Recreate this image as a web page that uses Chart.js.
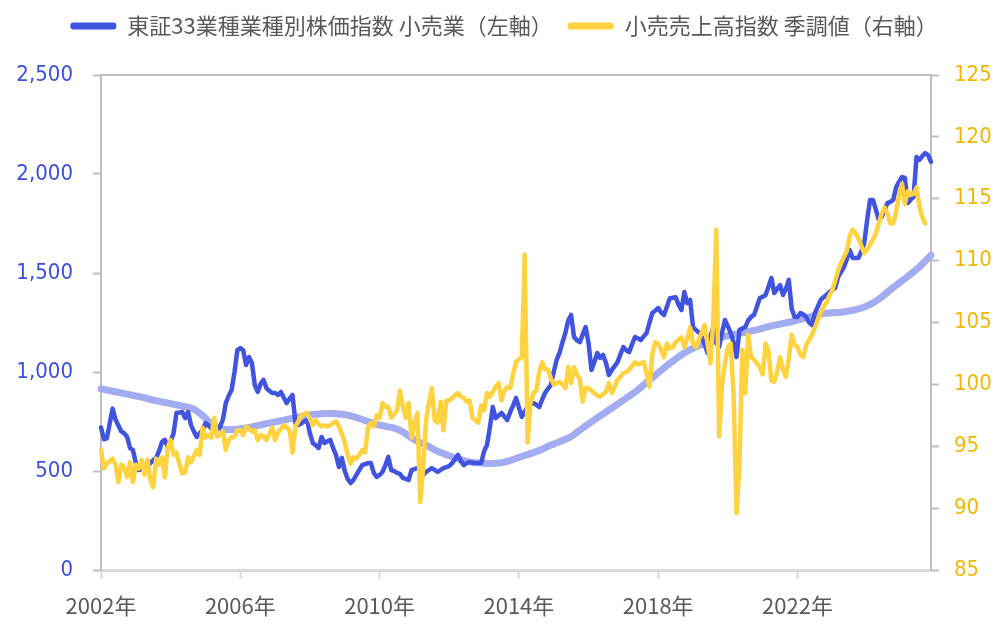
<!DOCTYPE html>
<html lang="ja">
<head>
<meta charset="utf-8">
<title>小売業 株価指数と小売売上高</title>
<script src="https://cdn.jsdelivr.net/npm/chart.js@4/dist/chart.umd.min.js"></script>
<style>
  html, body { margin: 0; padding: 0; background: #fff; }
  #wrap { width: 1008px; height: 625px; }
</style>
</head>
<body>
<div id="wrap"><canvas id="retailChart" width="1008" height="625"></canvas></div>
<script>
// monthly data, Jan 2002 onwards
const startYear = 2002;
const monthCount = 287; // 2002/01 - 2025/11

// 東証33業種 小売業 (left axis)
const retailStockIndex = [
  720, 660, 665, 740, 815, 760, 730, 700, 690, 672, 616, 606,          // 2002
  540, 505, 510, 515, 525, 540, 555, 566, 600, 646, 657, 621,          // 2003
  650, 690, 793, 795, 798, 767, 798, 732, 700, 672, 690, 707,          // 2004
  742, 730, 715, 707, 712, 722, 760, 843, 880, 909, 1000, 1111,        // 2005
  1121, 1110, 1035, 1076, 1045, 934, 899, 940, 960, 919, 905, 894,     // 2006
  894, 884, 899, 870, 843, 865, 884, 742, 732, 740, 750, 757,          // 2007
  690, 641, 630, 616, 672, 641, 650, 657, 616, 580, 520, 566,          // 2008
  500, 460, 439, 455, 480, 505, 530, 535, 540, 540, 490, 470,          // 2009
  480, 495, 530, 571, 505, 500, 490, 485, 465, 460, 455, 505,          // 2010
  510, 515, 500, 480, 495, 505, 515, 505, 495, 505, 515, 520,          // 2011
  525, 540, 560, 581, 550, 530, 540, 545, 542, 540, 540, 540,          // 2012
  600, 631, 720, 823, 767, 780, 793, 775, 757, 798, 830, 869,          // 2013
  820, 773, 800, 823, 835, 843, 835, 823, 860, 894, 915, 934,          // 2014
  1000, 1061, 1096, 1150, 1197, 1260, 1288, 1177, 1160, 1151, 1190, 1227, // 2015
  1146, 1010, 1050, 1096, 1071, 1086, 1045, 985, 1010, 1030, 1050, 1090,  // 2016
  1126, 1110, 1101, 1140, 1177, 1170, 1161, 1180, 1197, 1250, 1298, 1310, // 2017
  1323, 1300, 1288, 1330, 1373, 1375, 1378, 1340, 1313, 1404, 1348, 1364, // 2018
  1227, 1212, 1200, 1177, 1140, 1096, 1180, 1227, 1146, 1126, 1200, 1263, // 2019
  1230, 1197, 1150, 1076, 1212, 1220, 1227, 1260, 1278, 1288, 1330, 1373, // 2020
  1380, 1389, 1430, 1475, 1399, 1420, 1439, 1389, 1420, 1465, 1320, 1278, // 2021
  1278, 1298, 1290, 1278, 1250, 1237, 1298, 1330, 1364, 1378, 1390, 1404, // 2022
  1415, 1424, 1480, 1505, 1530, 1570, 1616, 1576, 1576, 1576, 1610, 1651, // 2023
  1768, 1869, 1869, 1820, 1768, 1783, 1820, 1853, 1860, 1869, 1934, 1960, // 2024
  1985, 1980, 1853, 1870, 1884, 2086, 2071, 2090, 2106, 2096, 2061        // 2025
];

// 小売売上高指数 季調値 (right axis)
const retailSalesIndex = [
  94.7, 93.2, 93.6, 93.8, 94.0, 93.5, 92.1, 93.5, 93.3, 92.5, 93.7, 92.1,        // 2002
  93.5, 93.2, 93.9, 92.7, 93.9, 92.3, 91.7, 94.0, 93.5, 94.1, 92.5, 94.9,        // 2003
  95.5, 94.3, 94.5, 93.6, 92.8, 92.9, 94.1, 93.7, 94.2, 94.7, 94.3, 96.5,        // 2004
  95.7, 95.9, 95.7, 97.3, 95.8, 95.9, 96.2, 94.7, 95.5, 95.7, 95.8, 96.3,        // 2005
  96.3, 95.9, 96.6, 96.4, 96.2, 96.3, 95.5, 95.9, 95.8, 95.5, 96.0, 96.5,        // 2006
  95.5, 96.1, 96.4, 96.7, 96.5, 96.3, 94.5, 96.6, 97.0, 97.5, 97.6, 97.7,        // 2007
  97.2, 96.7, 97.1, 96.8, 96.6, 96.7, 96.6, 96.7, 96.9, 97.0, 96.6, 96.0,        // 2008
  95.3, 94.3, 93.6, 94.1, 94.0, 94.3, 94.7, 94.5, 96.5, 96.9, 96.6, 97.5,        // 2009
  97.3, 98.5, 98.2, 98.2, 97.3, 97.6, 97.9, 99.5, 98.2, 97.3, 98.5, 95.7,        // 2010
  96.9, 97.7, 90.5, 93.3, 97.1, 98.5, 99.7, 97.1, 96.9, 98.6, 96.3, 98.7,        // 2011
  98.7, 98.9, 99.1, 99.3, 99.0, 98.9, 98.6, 98.7, 97.3, 97.1, 96.9, 98.3,        // 2012
  97.9, 99.3, 99.0, 99.4, 99.8, 100.1, 98.7, 99.5, 99.8, 99.7, 100.8, 101.8,     // 2013
  102.0, 102.2, 110.5, 95.3, 98.5, 99.3, 99.5, 101.0, 101.8, 101.2, 101.2, 100.5, // 2014
  100.0, 100.1, 100.2, 100.0, 99.7, 101.4, 100.1, 101.4, 100.8, 100.4, 98.6, 99.7, // 2015
  99.7, 99.5, 99.3, 99.1, 99.0, 99.2, 99.4, 100.1, 99.3, 99.8, 100.4, 100.6,     // 2016
  100.9, 101.0, 101.2, 101.5, 101.8, 101.6, 101.7, 101.8, 100.9, 99.8, 102.5, 103.4, // 2017
  103.3, 102.8, 102.2, 103.3, 102.9, 103.0, 103.4, 103.6, 103.8, 103.0, 103.7, 104.6, // 2018
  103.3, 103.0, 103.6, 104.2, 104.8, 103.3, 101.7, 105.2, 112.5, 95.8, 100.0, 101.7,  // 2019
  103.0, 103.3, 99.0, 89.6, 93.5, 102.8, 99.3, 104.0, 102.2, 102.0, 101.7, 101.4,    // 2020
  100.8, 103.3, 102.7, 100.3, 100.2, 101.0, 102.2, 101.2, 100.6, 102.1, 104.0, 103.2, // 2021
  103.0, 102.4, 102.2, 103.2, 103.6, 104.0, 104.6, 105.2, 105.8, 106.3, 106.6, 107.2, // 2022
  107.6, 108.4, 109.2, 109.8, 110.3, 110.8, 112.0, 112.5, 112.2, 111.8, 111.2, 110.6, // 2023
  110.9, 111.3, 111.7, 112.2, 113.0, 113.8, 114.3, 113.8, 113.0, 113.0, 114.0, 115.3, // 2024
  116.2, 114.6, 115.6, 115.3, 115.4, 115.9, 114.4, 113.5, 113.0                       // 2025
];

// long-run trend of the stock index (light line, left axis, not in legend)
const stockTrend = [
  915, 912, 909, 906, 903, 900, 897, 894, 891, 888, 885, 882,          // 2002
  879, 876, 873, 870, 866, 862, 858, 855, 852, 849, 846, 843,          // 2003
  840, 837, 834, 831, 828, 825, 822, 818, 812, 803, 792, 780,          // 2004
  766, 752, 740, 730, 722, 716, 712, 710, 709, 709, 710, 711,          // 2005
  713, 715, 717, 720, 723, 727, 730, 733, 736, 739, 742, 745,          // 2006
  748, 751, 754, 757, 760, 763, 766, 769, 772, 775, 778, 781,          // 2007
  783, 785, 787, 788, 789, 790, 790, 790, 790, 789, 788, 787,          // 2008
  785, 782, 778, 774, 770, 765, 760, 755, 750, 745, 740, 736,          // 2009
  732, 729, 726, 723, 720, 717, 712, 705, 697, 688, 678, 668,          // 2010
  658, 650, 643, 636, 630, 623, 615, 607, 600, 594, 588, 582,          // 2011
  577, 572, 567, 562, 557, 553, 549, 546, 544, 542, 541, 540,          // 2012
  539, 538, 538, 538, 539, 540, 542, 545, 549, 553, 558, 563,          // 2013
  568, 573, 578, 583, 588, 593, 598, 604, 610, 617, 624, 631,          // 2014
  636, 642, 648, 654, 660, 666, 674, 684, 695, 706, 717, 728,          // 2015
  738, 748, 758, 768, 778, 788, 798, 808, 818, 828, 838, 848,          // 2016
  858, 868, 878, 888, 898, 910, 922, 935, 948, 960, 972, 984,          // 2017
  996, 1008, 1020, 1032, 1044, 1055, 1066, 1076, 1086, 1096, 1105, 1113, // 2018
  1120, 1126, 1132, 1138, 1144, 1150, 1156, 1162, 1167, 1172, 1176, 1180, // 2019
  1183, 1186, 1189, 1192, 1195, 1198, 1201, 1204, 1207, 1210, 1213, 1217, // 2020
  1221, 1225, 1229, 1233, 1236, 1239, 1242, 1245, 1248, 1251, 1254, 1258, // 2021
  1262, 1266, 1270, 1274, 1278, 1282, 1286, 1289, 1292, 1295, 1297, 1298, // 2022
  1299, 1300, 1301, 1302, 1304, 1306, 1309, 1312, 1315, 1319, 1323, 1328, // 2023
  1334, 1341, 1349, 1358, 1368, 1379, 1391, 1403, 1415, 1427, 1438, 1449, // 2024
  1460, 1471, 1482, 1494, 1506, 1518, 1531, 1545, 1560, 1575, 1590        // 2025
];

// year labels are shown every 4 years
const labelYears = [2002, 2006, 2010, 2014, 2018, 2022];

// month categories "2002/01" ...
const months = [];
for (let i = 0; i < monthCount; i++) {
    const y = startYear + Math.floor(i / 12);
    const m = (i % 12) + 1;
    months.push(y + '/' + String(m).padStart(2, '0'));
}

const isYearTick = (idx) => idx % 12 === 0 && labelYears.includes(startYear + idx / 12);

const gridGray = '#bfbfbf';
const textGray = '#595959';
const numFont = "'DejaVu Sans Condensed', 'DejaVu Sans', sans-serif";
const jpFont = "'Noto Sans CJK JP', 'Noto Sans', sans-serif";

Chart.defaults.font.family = jpFont;
Chart.defaults.color = textGray;

// make the legend box as tall as the space above the plot
const legendSpacer = {
    id: 'legendSpacer',
    beforeInit(chart) {
        const origFit = chart.legend.fit;
        chart.legend.fit = function () {
            origFit.call(this);
            this.height = 75;
        };
    }
};

// top border of the plot area
const topFrame = {
    id: 'topFrame',
    afterDraw(chart) {
        const { ctx, chartArea } = chart;
        ctx.save();
        ctx.strokeStyle = gridGray;
        ctx.lineWidth = 2;
        ctx.beginPath();
        ctx.moveTo(chartArea.left, chartArea.top);
        ctx.lineTo(chartArea.right, chartArea.top);
        ctx.stroke();
        ctx.restore();
    }
};

const ctx = document.getElementById('retailChart').getContext('2d');
const retailChart = new Chart(ctx, {
    type: 'line',
    data: {
        labels: months,
        datasets: [
            {
                label: '東証33業種業種別株価指数 小売業（左軸）',
                data: retailStockIndex,
                yAxisID: 'y',
                borderColor: '#4054E0',
                backgroundColor: '#4054E0',
                borderWidth: 4.5,
                order: 1
            },
            {
                label: '小売売上高指数 季調値（右軸）',
                data: retailSalesIndex,
                yAxisID: 'y1',
                borderColor: '#FFD33F',
                backgroundColor: '#FFD33F',
                borderWidth: 4.5,
                order: 0
            },
            {
                label: 'trend',
                data: stockTrend,
                yAxisID: 'y',
                borderColor: '#A3ABF1',
                backgroundColor: '#A3ABF1',
                borderWidth: 7,
                order: 2
            }
        ]
    },
    options: {
        responsive: false,
        animation: false,
        layout: { padding: { left: 0, right: 0, top: 0, bottom: 0 } },
        elements: {
            point: { radius: 0, hoverRadius: 0 },
            line: { tension: 0, borderJoinStyle: 'round', borderCapStyle: 'round', fill: false }
        },
        plugins: {
            legend: {
                position: 'top',
                align: 'center',
                labels: {
                    color: textGray,
                    font: { size: 22, family: jpFont },
                    boxWidth: 46,
                    boxHeight: 7,
                    padding: 15,
                    useBorderRadius: true,
                    borderRadius: 3,
                    filter: (item) => item.datasetIndex !== 2,
                    sort: (a, b) => a.datasetIndex - b.datasetIndex,
                    generateLabels: (chart) => {
                        const items = Chart.defaults.plugins.legend.labels.generateLabels(chart);
                        items.forEach(it => { it.lineWidth = 0; });
                        return items;
                    }
                }
            },
            tooltip: { enabled: false }
        },
        scales: {
            x: {
                type: 'category',
                offset: false,
                grid: {
                    drawOnChartArea: false,
                    drawTicks: true,
                    tickLength: 9,
                    tickWidth: 2,
                    tickColor: '#d9d9d9'
                },
                border: { display: true, color: '#d9d9d9', width: 3 },
                afterBuildTicks: (axis) => {
                    axis.ticks = axis.ticks.filter(t => isYearTick(t.value));
                },
                ticks: {
                    autoSkip: false,
                    maxRotation: 0,
                    minRotation: 0,
                    padding: 13,
                    color: textGray,
                    font: { size: 22, family: jpFont },
                    callback: function (value) {
                        return (startYear + Math.floor(value / 12)) + '年';
                    }
                },
                afterFit: (axis) => { axis.height = 55; }
            },
            y: {
                position: 'left',
                min: 0,
                max: 2500,
                grid: {
                    drawOnChartArea: false,
                    tickLength: 8,
                    tickWidth: 2,
                    tickColor: gridGray
                },
                border: { display: true, color: gridGray, width: 2 },
                ticks: {
                    stepSize: 500,
                    padding: 20,
                    color: '#3B4FE0',
                    font: { size: 22, family: numFont },
                    callback: (v) => v.toLocaleString('en-US')
                },
                afterFit: (axis) => { axis.width = 101; }
            },
            y1: {
                position: 'right',
                min: 85,
                max: 125,
                grid: {
                    drawOnChartArea: false,
                    tickLength: 8,
                    tickWidth: 2,
                    tickColor: gridGray
                },
                border: { display: true, color: gridGray, width: 2 },
                ticks: {
                    stepSize: 5,
                    padding: 15,
                    color: '#F2B705',
                    font: { size: 22, family: numFont }
                },
                afterFit: (axis) => { axis.width = 77; }
            }
        }
    },
    plugins: [legendSpacer, topFrame]
});
</script>
</body>
</html>
